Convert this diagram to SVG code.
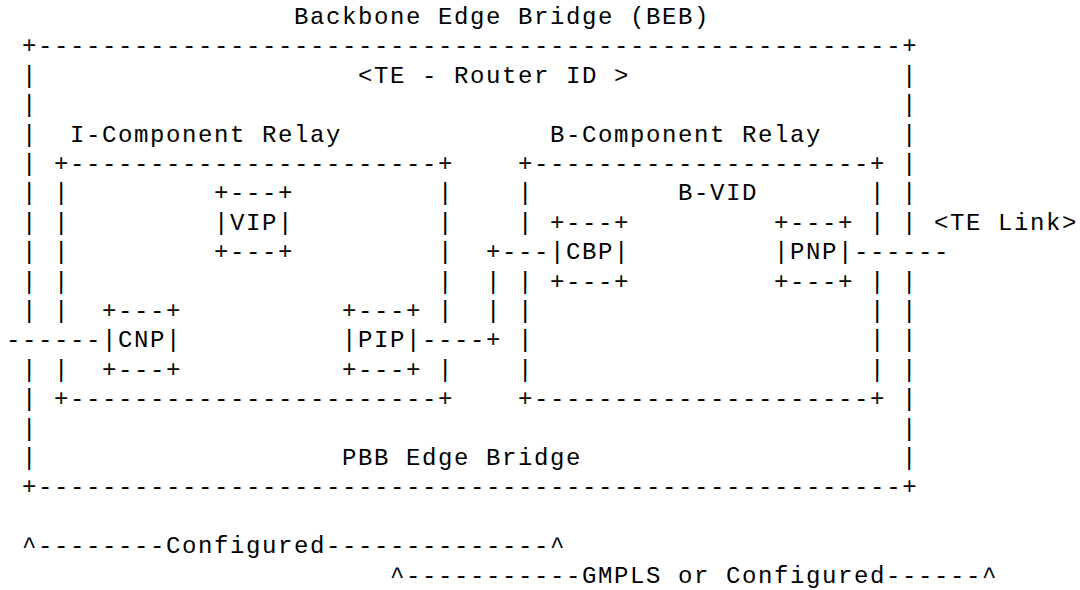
<svg xmlns="http://www.w3.org/2000/svg" width="1080" height="590" viewBox="0 0 1080 590">
<style>
text{font-family:"Liberation Mono","DejaVu Sans Mono",monospace;font-size:24px;letter-spacing:1.6px;fill:#000;white-space:pre}
</style>
<rect width="1080" height="590" fill="#fff"/>
<g id="title"><text x="294" y="24">Backbone Edge Bridge (BEB)</text></g>
<g id="beb">
<text x="22" y="53.4">+------------------------------------------------------+</text>
<text x="22" y="494.4">+------------------------------------------------------+</text>
<text><tspan x="22" y="82.8">|</tspan><tspan x="22" y="112.2">|</tspan><tspan x="22" y="141.6">|</tspan><tspan x="22" y="171">|</tspan><tspan x="22" y="200.4">|</tspan><tspan x="22" y="229.8">|</tspan><tspan x="22" y="259.2">|</tspan><tspan x="22" y="288.6">|</tspan><tspan x="22" y="318">|</tspan><tspan x="22" y="376.8">|</tspan><tspan x="22" y="406.2">|</tspan><tspan x="22" y="435.6">|</tspan><tspan x="22" y="465">|</tspan></text>
<text><tspan x="902" y="82.8">|</tspan><tspan x="902" y="112.2">|</tspan><tspan x="902" y="141.6">|</tspan><tspan x="902" y="171">|</tspan><tspan x="902" y="200.4">|</tspan><tspan x="902" y="229.8">|</tspan><tspan x="902" y="288.6">|</tspan><tspan x="902" y="318">|</tspan><tspan x="902" y="347.4">|</tspan><tspan x="902" y="376.8">|</tspan><tspan x="902" y="406.2">|</tspan><tspan x="902" y="435.6">|</tspan><tspan x="902" y="465">|</tspan></text>
<text x="358" y="82.8">&lt;TE - Router ID &gt;</text>
<text x="342" y="465">PBB Edge Bridge</text>
</g>
<g id="i-component">
<text x="70" y="141.6">I-Component Relay</text>
<text x="54" y="171">+-----------------------+</text>
<text x="54" y="406.2">+-----------------------+</text>
<text><tspan x="54" y="200.4">|</tspan><tspan x="54" y="229.8">|</tspan><tspan x="54" y="259.2">|</tspan><tspan x="54" y="288.6">|</tspan><tspan x="54" y="318">|</tspan><tspan x="54" y="376.8">|</tspan></text>
<text><tspan x="438" y="200.4">|</tspan><tspan x="438" y="229.8">|</tspan><tspan x="438" y="259.2">|</tspan><tspan x="438" y="288.6">|</tspan><tspan x="438" y="318">|</tspan><tspan x="438" y="376.8">|</tspan></text>
</g>
<g id="b-component">
<text x="550" y="141.6">B-Component Relay</text>
<text x="518" y="171">+---------------------+</text>
<text x="518" y="406.2">+---------------------+</text>
<text><tspan x="518" y="200.4">|</tspan><tspan x="518" y="229.8">|</tspan><tspan x="518" y="288.6">|</tspan><tspan x="518" y="318">|</tspan><tspan x="518" y="347.4">|</tspan><tspan x="518" y="376.8">|</tspan></text>
<text><tspan x="870" y="200.4">|</tspan><tspan x="870" y="229.8">|</tspan><tspan x="870" y="288.6">|</tspan><tspan x="870" y="318">|</tspan><tspan x="870" y="347.4">|</tspan><tspan x="870" y="376.8">|</tspan></text>
<text x="678" y="200.4">B-VID</text>
</g>
<g id="vip"><text x="214" y="200.4">+---+</text><text x="214" y="229.8">|VIP|</text><text x="214" y="259.2">+---+</text></g>
<g id="cbp"><text x="550" y="229.8">+---+</text><text x="550" y="259.2">|CBP|</text><text x="550" y="288.6">+---+</text></g>
<g id="pnp"><text x="774" y="229.8">+---+</text><text x="774" y="259.2">|PNP|</text><text x="774" y="288.6">+---+</text></g>
<g id="cnp"><text x="102" y="318">+---+</text><text x="102" y="347.4">|CNP|</text><text x="102" y="376.8">+---+</text></g>
<g id="pip"><text x="342" y="318">+---+</text><text x="342" y="347.4">|PIP|</text><text x="342" y="376.8">+---+</text></g>
<g id="connectors">
<text x="6" y="347.4">------</text>
<text x="422" y="347.4">----+</text>
<text><tspan x="486" y="288.6">|</tspan><tspan x="486" y="318">|</tspan></text>
<text x="486" y="259.2">+---</text>
<text x="854" y="259.2">------</text>
<text x="934" y="229.8">&lt;TE Link&gt;</text>
</g>
<g id="scopes">
<text x="22" y="553.2">^--------Configured--------------^</text>
<text x="390" y="582.6">^-----------GMPLS or Configured------^</text>
</g>
</svg>
